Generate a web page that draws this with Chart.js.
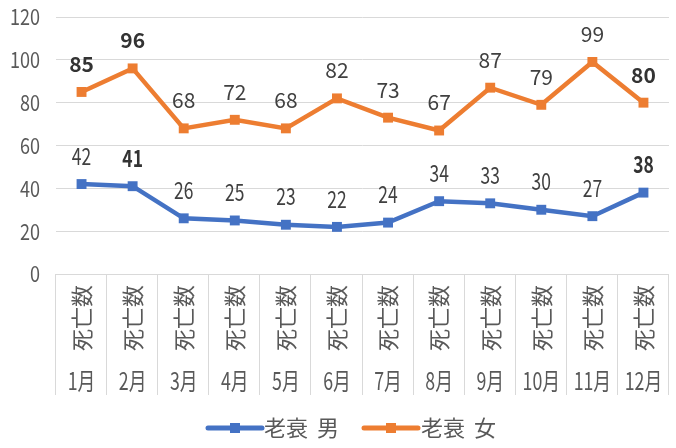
<!DOCTYPE html>
<html><head><meta charset="utf-8">
<script src="https://cdn.jsdelivr.net/npm/chart.js@4/dist/chart.umd.min.js"></script>
<style>html,body{margin:0;padding:0;background:#fff}#wrap{width:676px;height:448px}</style>
</head><body><div id="wrap"><canvas id="c" width="676" height="448"></canvas></div>
<script>
const months = ['1月','2月','3月','4月','5月','6月','7月','8月','9月','10月','11月','12月'];
const subCategory = '死亡数';
const seriesNames = ['老衰 男','老衰 女'];
const male = [42,41,26,25,23,22,24,34,33,30,27,38];
const female = [85,96,68,72,68,82,73,67,87,79,99,80];
const maleBold = [1,11];
const femaleBold = [0,1,11];
const yMin = 0, yMax = 120, yStep = 20;

const colors = ['#4472C4','#ED7D31'];
const FONT = "'Noto Sans CJK JP','Noto Sans',sans-serif";

function condensedText(ctx, txt, x, y, sx, align){
  ctx.save();
  ctx.translate(x, y);
  ctx.scale(sx, 1);
  ctx.textAlign = align || 'center';
  ctx.fillText(txt, 0, 0);
  ctx.restore();
}

const deco = {
  id:'deco',
  afterDraw(chart){
    const ctx = chart.ctx;
    const xs = chart.scales.x, ys = chart.scales.y;
    const ca = chart.chartArea;
    ctx.save();
    // y tick labels
    ctx.fillStyle = '#595959';
    ctx.font = '22px ' + FONT;
    ctx.textBaseline = 'middle';
    for (let v = yMin; v <= yMax; v += yStep){
      condensedText(ctx, String(v), 40, ys.getPixelForValue(v), 0.82, 'right');
    }
    // separators
    ctx.strokeStyle = '#d9d9d9';
    ctx.lineWidth = 1;
    const n = months.length;
    const cw = (ca.right - ca.left) / n;
    for (let i = 0; i <= n; i++){
      const x = Math.round(ca.left + i*cw) - 0.5;
      ctx.beginPath(); ctx.moveTo(x, ca.bottom); ctx.lineTo(x, 395); ctx.stroke();
    }
    // categories
    ctx.fillStyle = '#595959';
    for (let i = 0; i < n; i++){
      const cx = xs.getPixelForValue(i);
      ctx.save();
      ctx.translate(cx, 318);
      ctx.rotate(-Math.PI/2);
      ctx.font = '22px ' + FONT;
      ctx.textAlign = 'center';
      ctx.textBaseline = 'middle';
      ctx.fillText(subCategory, 0, 0);
      ctx.restore();
      ctx.font = '24px ' + FONT;
      ctx.textBaseline = 'middle';
      condensedText(ctx, months[i], cx, 381, 0.74, 'center');
    }
    // legend
    const ly = 428;
    const items = [[208, 264], [364, 421]];
    items.forEach((it, k) => {
      ctx.strokeStyle = colors[k];
      ctx.lineWidth = 5;
      ctx.lineCap = 'round';
      ctx.beginPath(); ctx.moveTo(it[0], ly); ctx.lineTo(it[0]+54, ly); ctx.stroke();
      ctx.fillStyle = colors[k];
      ctx.fillRect(it[0]+27-5, ly-5, 10, 10);
      ctx.fillStyle = '#595959';
      ctx.font = '22px ' + FONT;
      ctx.textBaseline = 'middle';
      ctx.textAlign = 'left';
      const parts = seriesNames[k].split(' ');
      ctx.fillText(parts[0], it[1], ly);
      ctx.fillText(parts[1], it[1] + ctx.measureText(parts[0]).width + 9, ly);
    });
    // data labels
    const sets = [[male, maleBold, 23, 0.76], [female, femaleBold, 21, 1.0]];
    sets.forEach((s, k) => {
      const meta = chart.getDatasetMeta(k);
      meta.data.forEach((pt, i) => {
        const bold = s[1].includes(i);
        ctx.fillStyle = bold ? '#333333' : '#404040';
        ctx.font = (bold ? 'bold ' : '') + s[2] + 'px ' + FONT;
        ctx.textBaseline = 'middle';
        condensedText(ctx, String(s[0][i]), pt.x, pt.y - 28, s[3], 'center');
      });
    });
    ctx.restore();
  }
};

new Chart(document.getElementById('c'), {
  type:'line',
  data:{
    labels: months,
    datasets:[
      {label:seriesNames[0], data:male, borderColor:colors[0], backgroundColor:colors[0], borderWidth:4.5, pointStyle:'rect', pointRadius:7, pointBorderWidth:0, tension:0},
      {label:seriesNames[1], data:female, borderColor:colors[1], backgroundColor:colors[1], borderWidth:4.5, pointStyle:'rect', pointRadius:7, pointBorderWidth:0, tension:0}
    ]
  },
  options:{
    responsive:false,
    animation:false,
    layout:{padding:{top:17, left:0, right:0, bottom:174}},
    plugins:{legend:{display:false}, tooltip:{enabled:false}},
    scales:{
      x:{offset:true, ticks:{display:false}, grid:{display:false, drawTicks:false}, border:{display:false}, afterFit(s){s.height=0;}},
      y:{min:yMin, max:yMax, ticks:{display:false, stepSize:yStep}, grid:{color:'#d9d9d9', drawTicks:false, lineWidth:1}, border:{display:false}, afterFit(s){s.width=56;}}
    }
  },
  plugins:[deco]
});
</script></body></html>
